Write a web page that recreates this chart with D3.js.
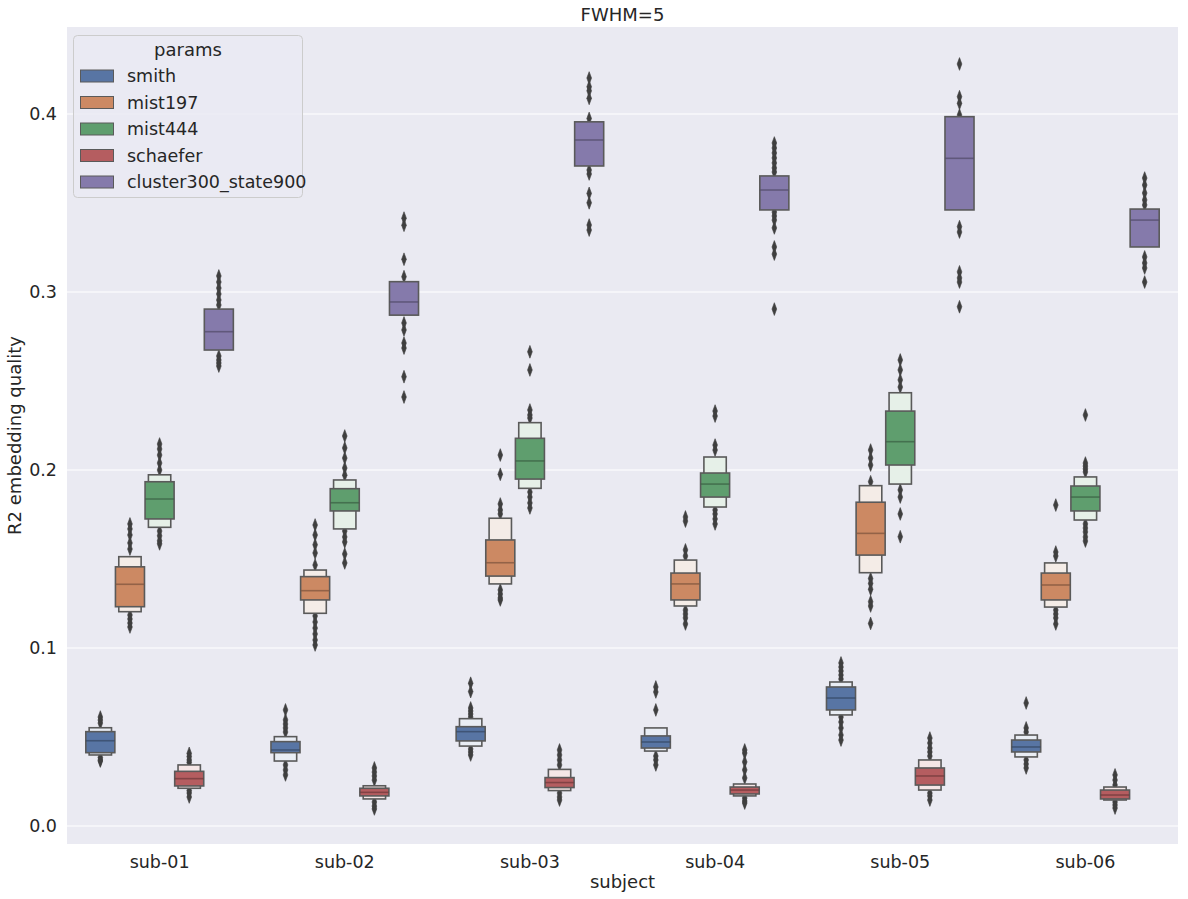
<!DOCTYPE html>
<html><head><meta charset="utf-8">
<script src="https://cdn.jsdelivr.net/npm/d3@7"></script>
<style>body{margin:0;background:#fff}svg{display:block;font-family:"DejaVu Sans",sans-serif}</style>
</head><body><svg id="c" width="1188" height="899"></svg>
<script>
const subjects = ["sub-01","sub-02","sub-03","sub-04","sub-05","sub-06"];
const params = ["smith","mist197","mist444","schaefer","cluster300_state900"];
const yTicks = [0.0,0.1,0.2,0.3,0.4];
const fillColors = ["#5875a4","#cc8963","#5f9e6e","#b55d60","#857aab"];
const lightColors = ["#e9edf4","#f4ece7","#e6f0e8","#f5e6e6","#ece9f3"];

// letter values per subject: [outerLow, q1, median, q3, outerHigh]
const smithBoxes = [[0.0399,0.0412,0.0479,0.0530,0.0552],[0.0365,0.0412,0.0427,0.0474,0.0502],[0.0449,0.0478,0.0530,0.0558,0.0603],[0.0421,0.0438,0.0472,0.0506,0.0551],[0.0624,0.0652,0.0719,0.0781,0.0809],[0.0388,0.0416,0.0444,0.0483,0.0511]];
const smithOutliers = [[0.0612,0.0595,0.0578,0.0385,0.0371,0.0365],[0.0652,0.0596,0.0573,0.0551,0.0528,0.0343,0.0315,0.0287],[0.0802,0.0755,0.0663,0.0646,0.0629,0.0612,0.0433,0.0416,0.0399],[0.0781,0.0753,0.0652,0.0393,0.0371,0.0343],[0.0916,0.0893,0.0871,0.0848,0.0826,0.0612,0.0584,0.0551,0.0511,0.0483],[0.0691,0.0551,0.0528,0.0371,0.0348,0.0326]];
const mist197Boxes = [[0.1204,0.1232,0.1358,0.1456,0.1513],[0.1195,0.1270,0.1322,0.1401,0.1438],[0.1360,0.1404,0.1479,0.1607,0.1729],[0.1236,0.1270,0.1360,0.1421,0.1494],[0.1423,0.1522,0.1644,0.1819,0.1912],[0.1230,0.1270,0.1354,0.1421,0.1478]];
const mist197Outliers = [[0.1697,0.1669,0.1635,0.1590,0.1556,0.1185,0.1163,0.1140,0.1118],[0.1691,0.1635,0.1580,0.1534,0.1466,0.1180,0.1146,0.1112,0.1079,0.1045,0.1017],[0.2084,0.1976,0.1809,0.1775,0.1753,0.1326,0.1303,0.1281,0.1270],[0.1736,0.1713,0.1551,0.1517,0.1213,0.1191,0.1169,0.1135],[0.2112,0.2067,0.2028,0.1934,0.1390,0.1363,0.1330,0.1260,0.1236,0.1138],[0.1803,0.1539,0.1517,0.1213,0.1191,0.1169,0.1135]];
const mist444Boxes = [[0.1678,0.1725,0.1837,0.1934,0.1973],[0.1669,0.1770,0.1816,0.1895,0.1944],[0.1897,0.1949,0.2051,0.2178,0.2266],[0.1792,0.1848,0.1921,0.1983,0.2073],[0.1921,0.2028,0.2159,0.2331,0.2434],[0.1719,0.1770,0.1848,0.1910,0.1961]];
const mist444Outliers = [[0.2146,0.2118,0.2084,0.2039,0.2000,0.1657,0.1630,0.1602,0.1585],[0.2191,0.2124,0.2067,0.2011,0.1971,0.1657,0.1624,0.1596,0.1528,0.1478],[0.2664,0.2562,0.2337,0.2309,0.2292,0.1876,0.1848,0.1815,0.1787],[0.2331,0.2303,0.2140,0.2112,0.1775,0.1753,0.1725,0.1697],[0.2618,0.2562,0.2506,0.2466,0.1888,0.1848,0.1753,0.1625],[0.2309,0.2039,0.2022,0.2006,0.1989,0.1697,0.1674,0.1652,0.1624,0.1601]];
const schaeferBoxes = [[0.0212,0.0225,0.0266,0.0307,0.0343],[0.0152,0.0169,0.0189,0.0212,0.0226],[0.0199,0.0216,0.0244,0.0272,0.0318],[0.0169,0.0180,0.0202,0.0219,0.0236],[0.0202,0.0230,0.0281,0.0326,0.0371],[0.0146,0.0152,0.0174,0.0202,0.0219]];
const schaeferOutliers = [[0.0408,0.0390,0.0371,0.0357,0.0199,0.0185,0.0163],[0.0326,0.0303,0.0281,0.0258,0.0135,0.0112,0.0096],[0.0427,0.0399,0.0371,0.0343,0.0185,0.0163,0.0146],[0.0427,0.0410,0.0360,0.0315,0.0270,0.0157,0.0140,0.0129],[0.0494,0.0466,0.0438,0.0416,0.0393,0.0185,0.0169,0.0146],[0.0287,0.0258,0.0230,0.0135,0.0118,0.0101]];
const clusterBoxes = [[null,0.2674,0.2777,0.2904,null],[null,0.2870,0.2944,0.3058,null],[null,0.3708,0.3854,0.3956,null],[null,0.3461,0.3573,0.3652,null],[null,0.3461,0.3751,0.3985,null],[null,0.3253,0.3404,0.3466,null]];
const clusterOutliers = [[0.3090,0.3056,0.3022,0.2989,0.2955,0.2927,0.2640,0.2618,0.2601,0.2584],[0.3415,0.3375,0.3184,0.3086,0.2826,0.2787,0.2713,0.2685,0.2524,0.2410],[0.4202,0.4153,0.4130,0.4088,0.3975,0.3685,0.3663,0.3554,0.3501,0.3376,0.3348],[0.3837,0.3809,0.3781,0.3753,0.3725,0.3697,0.3674,0.3449,0.3427,0.3404,0.3360,0.3253,0.3213,0.2904],[0.4281,0.4097,0.4060,0.3994,0.3367,0.3337,0.3113,0.3079,0.3056,0.2917],[0.3640,0.3601,0.3556,0.3517,0.3489,0.3197,0.3163,0.3135,0.3056]];

const allBoxes = [smithBoxes, mist197Boxes, mist444Boxes, schaeferBoxes, clusterBoxes];
const allOutliers = [smithOutliers, mist197Outliers, mist444Outliers, schaeferOutliers, clusterOutliers];

const svg = d3.select("#c");
const L = 67, R = 1178, T = 27, B = 844;
const x = d3.scaleBand().domain(subjects).range([L, R]).padding(0);
const hue = d3.scaleBand().domain(params).range([0, x.bandwidth()*0.8]);
const y = d3.scaleLinear().domain([0, 0.4]).range([826, 114]);

svg.append("rect").attr("x",L).attr("y",T).attr("width",R-L).attr("height",B-T).attr("fill","#eaeaf2");
svg.append("g").selectAll("line").data(yTicks).join("line")
  .attr("x1",L).attr("x2",R).attr("y1",d=>y(d)).attr("y2",d=>y(d))
  .attr("stroke","#fff").attr("stroke-width",1.2);

const edge = "#5a5a5a";
const g = svg.append("g");
params.forEach((p, pi) => {
  subjects.forEach((s, si) => {
    const cx = x(s) + x.bandwidth()*0.1 + hue(p) + hue.bandwidth()/2;
    const wIn = hue.bandwidth()*0.98, wOut = wIn*0.77;
    const b = allBoxes[pi][si];
    const sym = d3.symbol().type(d3.symbolDiamond).size(30);
    g.selectAll(null).data(allOutliers[pi][si]).join("path")
      .attr("d", sym)
      .attr("transform", d => `translate(${cx},${y(d)}) scale(0.8,1.25)`)
      .attr("fill","#3f3f3f").attr("stroke","#3f3f3f").attr("stroke-width",0.6);
    if (b[0] !== null) {
      g.append("rect").attr("x",cx-wOut/2).attr("width",wOut)
        .attr("y",y(b[4])).attr("height",y(b[0])-y(b[4]))
        .attr("fill",lightColors[pi]).attr("stroke",edge).attr("stroke-width",1.6);
    }
    g.append("rect").attr("x",cx-wIn/2).attr("width",wIn)
      .attr("y",y(b[3])).attr("height",y(b[1])-y(b[3]))
      .attr("fill",fillColors[pi]).attr("stroke",edge).attr("stroke-width",1.6);
    g.append("line").attr("x1",cx-wIn/2).attr("x2",cx+wIn/2)
      .attr("y1",y(b[2])).attr("y2",y(b[2]))
      .attr("stroke",d3.color(fillColors[pi]).darker(1.3)).attr("stroke-width",1.6).attr("opacity",0.75);
  });
});

const tc = "#262626";
svg.append("g").selectAll("text").data(yTicks).join("text")
  .attr("x",L-10).attr("y",d=>y(d)).attr("dy","0.35em").attr("text-anchor","end")
  .attr("font-size",17.5).attr("fill",tc).text(d=>d.toFixed(1));
svg.append("g").selectAll("text").data(subjects).join("text")
  .attr("x",d=>x(d)+x.bandwidth()/2).attr("y",B+18).attr("dy","0.35em").attr("text-anchor","middle")
  .attr("font-size",17.5).attr("fill",tc).text(d=>d);
svg.append("text").attr("x",(L+R)/2).attr("y",888).attr("text-anchor","middle").attr("font-size",18).attr("fill",tc).text("subject");
svg.append("text").attr("transform",`translate(21,${(T+B)/2}) rotate(-90)`).attr("text-anchor","middle").attr("font-size",18).attr("fill",tc).text("R2 embedding quality");
svg.append("text").attr("x",(L+R)/2).attr("y",21).attr("text-anchor","middle").attr("font-size",18).attr("fill",tc).text("FWHM=5");

const lg = svg.append("g");
lg.append("rect").attr("x",73.5).attr("y",35.5).attr("width",229).attr("height",162).attr("rx",4)
  .attr("fill","#eaeaf2").attr("fill-opacity",0.8).attr("stroke","#cccccc");
lg.append("text").attr("x",188).attr("y",50).attr("dy","0.35em").attr("text-anchor","middle").attr("font-size",18).attr("fill",tc).text("params");
params.forEach((p,i)=>{
  const yy = 76 + i*26.5;
  lg.append("rect").attr("x",80.5).attr("y",yy-6).attr("width",33).attr("height",12)
    .attr("fill",fillColors[i]).attr("stroke",edge).attr("stroke-width",1);
  lg.append("text").attr("x",127).attr("y",yy).attr("dy","0.35em").attr("font-size",17.5).attr("fill",tc).text(p);
});
</script></body></html>
